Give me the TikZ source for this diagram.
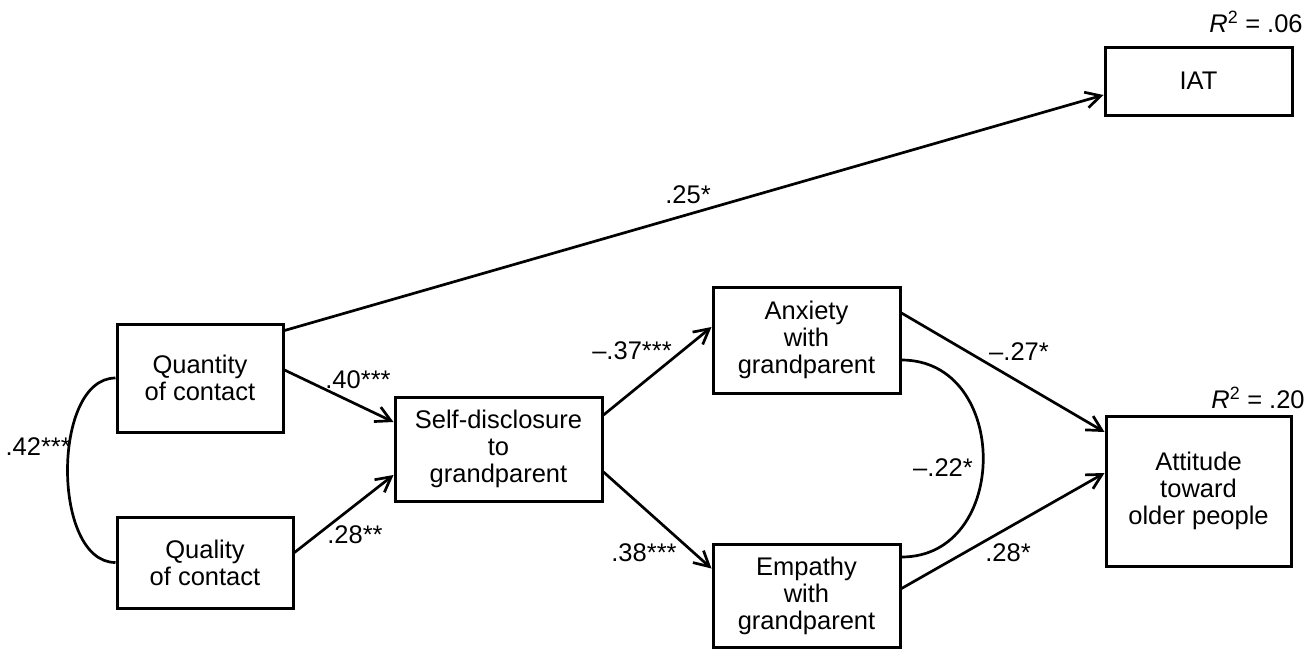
\documentclass[tikz,border=0pt]{standalone}
\usepackage{fontspec}
\setmainfont{Liberation Sans}
\usetikzlibrary{arrows.meta,calc}
\newcommand\labfont{\fontsize{25.5}{27}\selectfont}
\begin{document}
\begin{tikzpicture}[x=1pt,y=-1pt,
  box/.style={draw,line width=3pt,inner sep=0pt,align=center,font=\labfont},
  conn/.style={line width=2.7pt,-{Straight Barb[length=15pt,width=16pt,line width=2.7pt]}},
  cov/.style={line width=2.7pt},
  coef/.style={font=\labfont,inner sep=0pt}]
\useasboundingbox (0,0) rectangle (1316,659);
% boxes
\node[box,minimum width=166pt,minimum height=108pt] (quan) at (200,378) {Quantity\\of contact};
\node[box,minimum width=176pt,minimum height=91pt] (qual) at (205,562.5) {Quality\\of contact};
\node[box,minimum width=207pt,minimum height=104pt] (sd) at (498.5,449) {Self-disclosure\\to\\grandparent};
\node[box,minimum width=187pt,minimum height=106pt] (anx) at (806.5,340) {Anxiety\\with\\grandparent};
\node[box,minimum width=187pt,minimum height=103pt] (emp) at (806.5,595.5) {Empathy\\with\\grandparent};
\node[box,minimum width=187pt,minimum height=68pt] (iat) at (1198.5,81) {IAT};
\node[box,minimum width=185pt,minimum height=150pt] (att) at (1198.5,491) {Attitude\\toward\\older people};
% R squared
\node[coef] (r06) at (1256,22) {\textit{R}\textsuperscript{2} = .06};
\node[coef] (r20) at (1258,398) {\textit{R}\textsuperscript{2} = .20};
% paths
\draw[conn] ($(quan.north east)+(0,8)$) -- ($(iat.west)+(0,14)$);
\draw[conn] ($(quan.east)+(0,-8)$) -- ($(sd.west)+(0,-27)$);
\draw[conn] ($(qual.east)+(0,-10)$) -- ($(sd.west)+(0,26)$);
\draw[conn] ($(sd.east)+(0,-34)$) -- ($(anx.west)+(0,-13)$);
\draw[conn] ($(sd.east)+(0,23)$) -- ($(emp.west)+(0,-27)$);
\draw[conn] ($(anx.east)+(0,-27)$) -- ($(att.west)+(0,-59)$);
\draw[conn] ($(emp.east)+(0,-7)$) -- ($(att.west)+(0,-18)$);
% covariances
\draw[cov] (quan.west) .. controls ($(quan.west)+(-64,0)$) and ($(qual.west)+(-64,0)$) .. (qual.west);
\draw[cov] ($(anx.east)+(0,20)$) .. controls ($(anx.east)+(109,20)$) and ($(emp.east)+(109,-38.5)$) .. ($(emp.east)+(0,-38.5)$);
% coefficients
\node[coef] (c25) at (688,195) {.25*};
\node[coef] (c40) at (358,380) {.40***};
\node[coef] (c28a) at (355,535) {.28**};
\node[coef,anchor=east] (c42) at (71,447) {.42***};
\node[coef] (c37) at (632,351) {–.37***};
\node[coef] (c38) at (644,553) {.38***};
\node[coef] (c27) at (1019,352) {–.27*};
\node[coef] (c22) at (943,468) {–.22*};
\node[coef] (c28b) at (1008,553) {.28*};
\end{tikzpicture}
\end{document}
